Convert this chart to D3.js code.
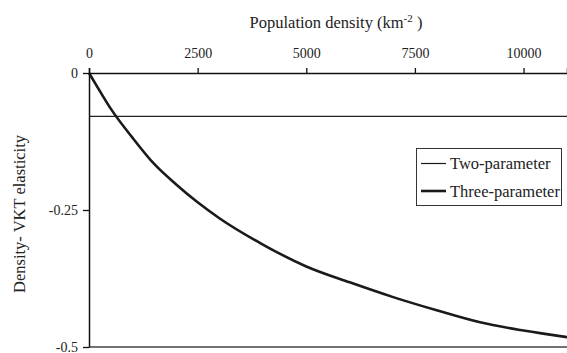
<!DOCTYPE html>
<html>
<head>
<meta charset="utf-8">
<script src="https://cdn.jsdelivr.net/npm/d3@7"></script>
<style>
  body { margin: 0; background: #fff; }
  svg { display: block; }
  svg text { font-family: 'Liberation Serif', Tinos, 'Times New Roman', serif !important; }
</style>
</head>
<body>
<div class="main"></div>
<script>
// Chart data
const densities = [0, 250, 500, 1000, 1500, 2000, 2500, 3000, 4000, 5000, 6000, 7000, 8000, 9000, 10000, 11000];
const threeParam = [0, -0.033, -0.065, -0.118, -0.166, -0.203, -0.236, -0.265, -0.313, -0.353, -0.382, -0.409, -0.433, -0.455, -0.470, -0.482];
const twoParam = -0.079;
const xTicks = [0, 2500, 5000, 7500, 10000];
const yTicks = [0, -0.25, -0.5];
const seriesNames = ['Two-parameter', 'Three-parameter'];

const width = 567;
const height = 353;
const margin = { top: 73, right: 0, bottom: 6, left: 89 };

const svg = d3.select('.main')
  .append('svg')
  .attr('width', width)
  .attr('height', height);

const x = d3.scaleLinear()
  .domain([0, 11000])
  .range([margin.left, width - margin.right]);

const y = d3.scaleLinear()
  .domain([-0.5, 0])
  .range([height - margin.bottom, margin.top]);

// bottom frame line
svg.append('line')
  .attr('x1', x(0)).attr('x2', x(11000))
  .attr('y1', y(-0.5)).attr('y2', y(-0.5))
  .attr('stroke', '#444')
  .attr('stroke-width', 1.5);

// two-parameter line
svg.append('line')
  .attr('x1', x(0)).attr('x2', x(11000))
  .attr('y1', y(twoParam)).attr('y2', y(twoParam))
  .attr('stroke', '#222')
  .attr('stroke-width', 1.2);

// three-parameter curve
const line = d3.line()
  .x((d, i) => x(densities[i]))
  .y(d => y(d))
  .curve(d3.curveMonotoneX);

svg.append('path')
  .datum(threeParam)
  .attr('fill', 'none')
  .attr('stroke', '#1a1a1a')
  .attr('stroke-width', 2.6)
  .attr('d', line);

// top axis
svg.append('g')
  .attr('transform', `translate(0, ${y(0)})`)
  .call(d3.axisTop(x).tickValues(xTicks).tickSize(5).tickPadding(10).tickFormat(d3.format('d')))
  .call(g => g.attr('font-family', null))
  .call(g => g.select('.domain').attr('stroke', '#111').attr('stroke-width', 1.5))
  .call(g => g.selectAll('.tick line').attr('stroke', '#111').attr('stroke-width', 1.3))
  .call(g => g.selectAll('.tick text')
    .attr('fill', '#222')
    .style('font-size', '14px'));

// left axis
svg.append('g')
  .attr('transform', `translate(${margin.left}, 0)`)
  .call(d3.axisLeft(y).tickValues(yTicks).tickSize(6).tickPadding(5).tickSizeOuter(0).tickFormat(d => d === 0 ? '0' : String(d)))
  .call(g => g.attr('font-family', null))
  .call(g => g.select('.domain').attr('stroke', '#111').attr('stroke-width', 1.5))
  .call(g => g.selectAll('.tick line').attr('stroke', '#111').attr('stroke-width', 1.3))
  .call(g => g.selectAll('.tick text')
    .attr('fill', '#222')
    .style('font-size', '14px'));

// axis titles
const xTitle = svg.append('text')
  .attr('x', 336)
  .attr('y', 28)
  .attr('text-anchor', 'middle')
  .attr('fill', '#222')
  .style('font-size', '16.5px');
xTitle.append('tspan').text('Population density (km');
xTitle.append('tspan').attr('dy', -6).style('font-size', '11px').text('-2');
xTitle.append('tspan').attr('dy', 6).text(' )');

svg.append('text')
  .attr('transform', `translate(25, 214) rotate(-90)`)
  .attr('text-anchor', 'middle')
  .attr('fill', '#222')
  .style('font-size', '16.5px')
  .text('Density- VKT elasticity');

// legend
const legend = svg.append('g');
legend.append('rect')
  .attr('x', 416.5).attr('y', 148.5)
  .attr('width', 145).attr('height', 57)
  .attr('fill', '#fff')
  .attr('stroke', '#333')
  .attr('stroke-width', 1);

const legendItems = legend.selectAll('g.item')
  .data(seriesNames)
  .enter()
  .append('g')
  .attr('transform', (d, i) => `translate(421, ${163.5 + i * 27.5})`);

legendItems.append('line')
  .attr('x1', 0).attr('x2', 25)
  .attr('stroke', '#1a1a1a')
  .attr('stroke-width', (d, i) => i === 0 ? 1.2 : 2.6);

legendItems.append('text')
  .attr('x', 29)
  .attr('dy', '0.35em')
  .attr('fill', '#222')
  .style('font-size', '16.5px')
  .text(d => d);
</script>
</body>
</html>
